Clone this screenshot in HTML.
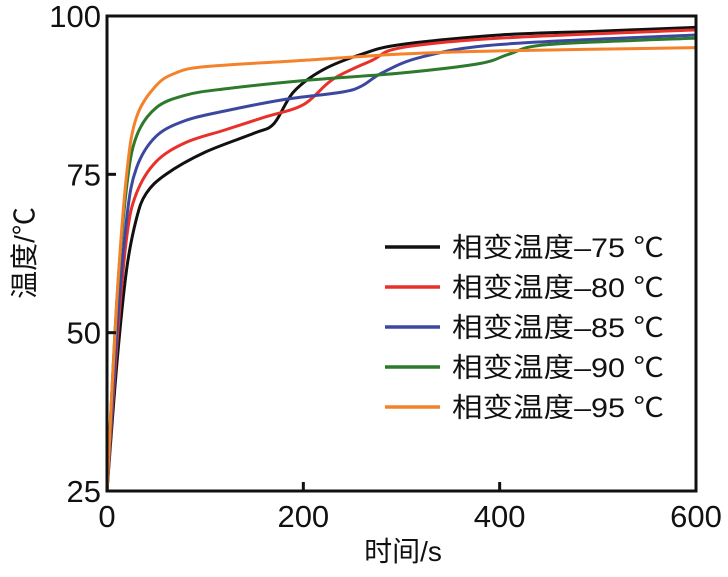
<!DOCTYPE html>
<html><head><meta charset="utf-8"><style>
body{margin:0;background:#fff}
text{font-family:"Liberation Sans","Noto Sans CJK SC",sans-serif;fill:#111}
</style></head><body>
<svg width="728" height="572" xmlns="http://www.w3.org/2000/svg">
<g id="plot"></g>
<text x="403" y="561" font-size="28" text-anchor="middle">时间/s</text>
<text transform="translate(34,253) rotate(-90)" font-size="28" text-anchor="middle">温度/℃</text>
</svg>
<script>
const xTicks=[0,200,400,600];
const yTicks=[25,50,75,100];
const seriesNames=["相变温度–75 ℃","相变温度–80 ℃","相变温度–85 ℃","相变温度–90 ℃","相变温度–95 ℃"];
const colors=["#111111","#e8312a","#3c48a0","#2d7a2d","#f4822a"];
const t75=[0,10,20,30,40,60,100,150,170,190,220,260,300,400,500,600];
const v75=[25,45,60,68,72,75,78.5,81.5,83,88,91.5,94,95.5,97,97.6,98.2];
const t80=[0,10,20,30,50,80,120,160,200,230,270,300,400,600];
const v80=[25,48,65,72,77,80,82,84,86,90,93,95,96.5,97.8];
const t85=[0,10,20,30,50,80,120,180,240,260,280,320,400,600];
const v85=[25,50,68,76,81,83.5,85,86.8,88,89,91,93.5,95.5,97];
const t90=[0,10,20,30,50,80,120,200,300,380,410,450,600];
const v90=[25,55,73,81,85.5,87.5,88.5,89.8,91,92.5,94,95.5,96.5];
const t95=[0,10,20,30,50,70,100,200,300,400,600];
const v95=[25,55,75,84,89,91,92,93,94,94.5,95];
const T=[t75,t80,t85,t90,t95], V=[v75,v80,v85,v90,v95];
const X0=107,X1=696,Y0=491,Y1=16;
const sx=v=>X0+(v-0)/600*(X1-X0);
const sy=v=>Y0-(v-25)/75*(Y0-Y1);
const g=document.getElementById('plot');
const NS="http://www.w3.org/2000/svg";
function mk(tag,a){const e=document.createElementNS(NS,tag);for(const k in a)e.setAttribute(k,a[k]);g.appendChild(e);return e;}
for(let i=0;i<5;i++){
  const pts=T[i].map((t,j)=>[sx(t),sy(V[i][j])]);
  let d="M"+pts[0];
  for(let j=0;j<pts.length-1;j++){
    const p0=pts[Math.max(j-1,0)],p1=pts[j],p2=pts[j+1],p3=pts[Math.min(j+2,pts.length-1)];
    const c1=[p1[0]+(p2[0]-p0[0])/6,p1[1]+(p2[1]-p0[1])/6],c2=[p2[0]-(p3[0]-p1[0])/6,p2[1]-(p3[1]-p1[1])/6];
    d+=" C"+c1+" "+c2+" "+p2;
  }
  const p=mk('path',{d:d,fill:'none',stroke:colors[i],'stroke-width':3});
  
  
}
const frame=mk('rect',{x:X0,y:Y1,width:X1-X0,height:Y0-Y1,fill:'none',stroke:'#111','stroke-width':3});


xTicks.forEach(v=>{
  mk('line',{x1:sx(v),x2:sx(v),y1:Y0,y2:Y0-9,stroke:'#111','stroke-width':3});
  const t=mk('text',{x:sx(v),y:Y0+36,'font-size':31,'text-anchor':'middle'});t.textContent=v;
  
  
});
yTicks.forEach(v=>{
  mk('line',{x1:X0,x2:X0+9,y1:sy(v),y2:sy(v),stroke:'#111','stroke-width':3});
  const t=mk('text',{x:X0-6,y:sy(v)+11,'font-size':31,'text-anchor':'end'});t.textContent=v;
  
  
});
seriesNames.forEach((n,i)=>{
  const y=247+i*40;
  mk('line',{x1:385,x2:440,y1:y,y2:y,stroke:colors[i],'stroke-width':3.5});
  const t=mk('text',{x:452,y:y+10,'font-size':27,textLength:212,lengthAdjust:'spacingAndGlyphs'});t.textContent=n;
  
  
});
</script>
</body></html>
